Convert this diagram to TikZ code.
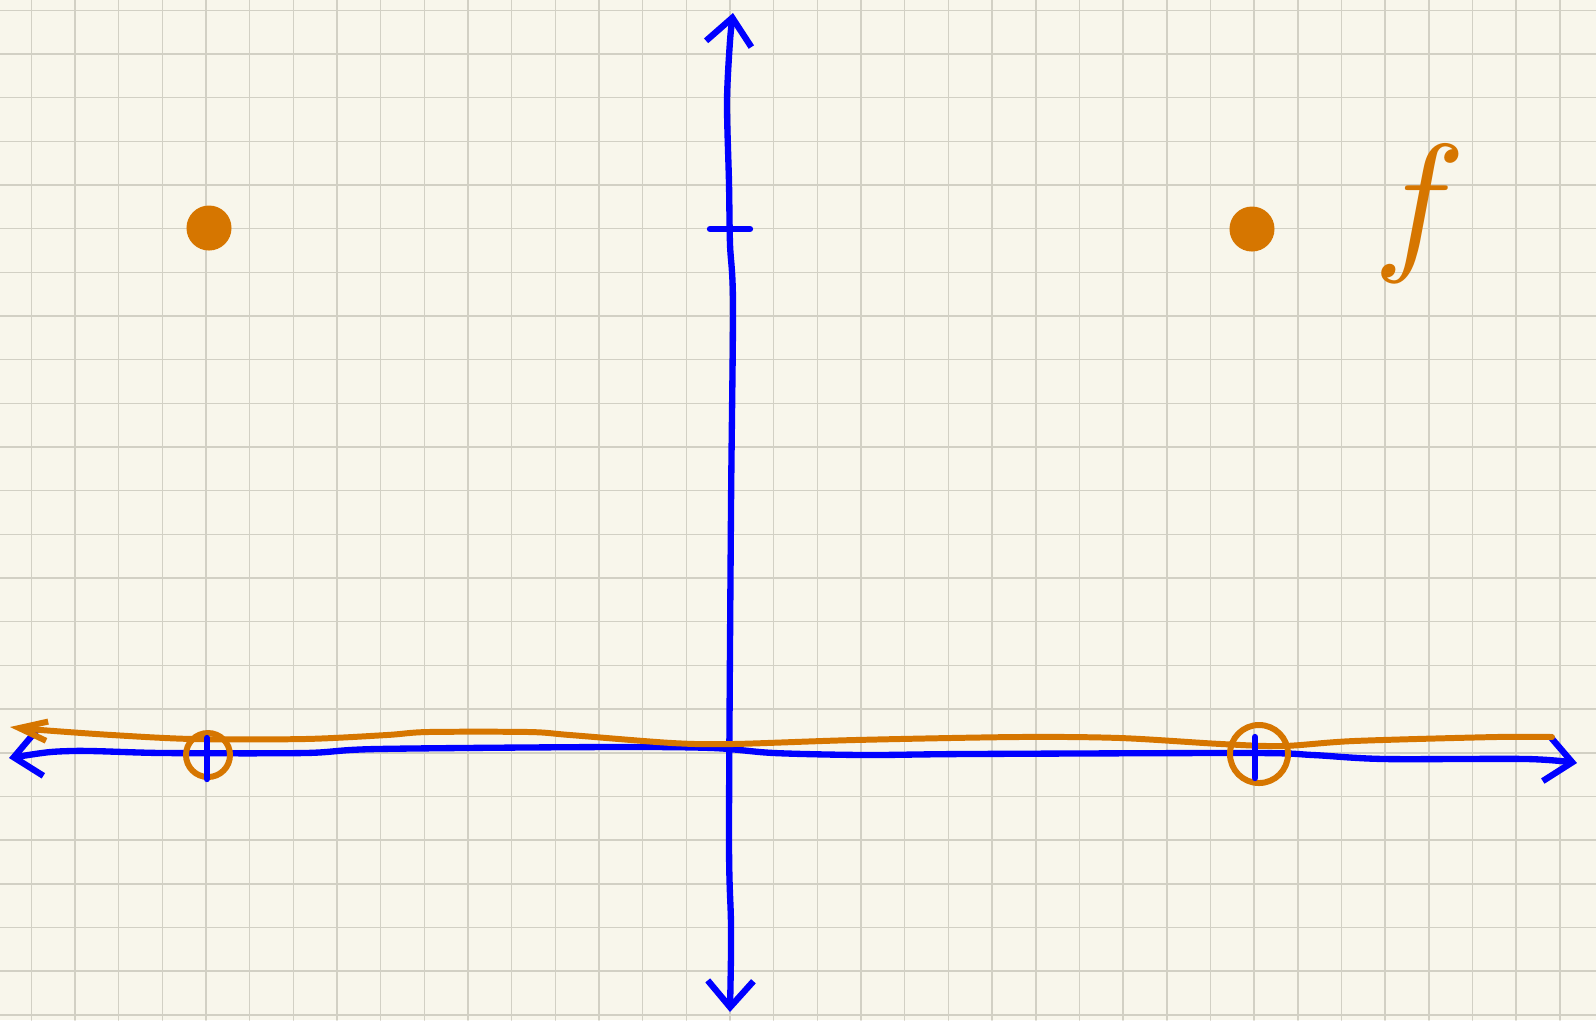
\documentclass[tikz,border=0pt]{standalone}
\usepackage{tikz}
\usetikzlibrary{arrows.meta}
\definecolor{paper}{HTML}{F8F6EB}
\definecolor{gridc}{HTML}{D2D0C4}
\definecolor{pen}{HTML}{0000FF}
\definecolor{marker}{HTML}{D67600}

\begin{document}
\begin{tikzpicture}[x=0.01cm, y=-0.01cm, line cap=round, line join=round,
  axis/.style={pen, line width=1.8pt},
  graph/.style={marker, line width=1.7pt},
  dot/.style={circle, fill=marker, inner sep=0pt, minimum size=0.45cm},
  hole/.style={circle, draw=marker, line width=1.7pt, inner sep=0pt},
  >={Straight Barb[length=7.5pt, width=13pt]}]
  \fill[paper] (0,0) rectangle (1596,1020);
  \useasboundingbox (0,0) rectangle (1596,1020);
  % squared paper
  \foreach \i in {0,...,35}
    \draw[gridc, line width=0.45pt] (31.3+43.67*\i,0) -- (31.3+43.67*\i,1020);
  \foreach \j in {0,...,23}
    \draw[gridc, line width=0.45pt] (0,10.3+43.67*\j) -- (1596,10.3+43.67*\j);
  % axis ends
  \coordinate (xl) at (9,758);
  \coordinate (xr) at (1577,763);
  \coordinate (yb) at (730,1012);
  \coordinate (yt) at (733,13);
  \coordinate (fl) at (10,727);
  \coordinate (fr) at (1552,737);
  % blue axes
  \draw[axis, <->] plot[smooth, tension=0.5] coordinates {(xl) (71,751)
    (163,753) (305,753) (377,749) (611,747) (713,748) (774,753) (865,755)
    (967,754) (1252,753) (1313,755) (1384,759) (1527,759) (xr)};
  \draw[axis, <->] plot[smooth, tension=0.5] coordinates {(yb) (731,926)
    (729,835) (731,509) (733,305) (730,244) (729,183) (727,102) (730,41) (yt)};
  % orange graph
  \draw[graph, <-, >={Straight Barb[length=8pt, width=5.5pt]}]
    plot[smooth, tension=0.5] coordinates {(fl) (41,730) (112,735)
    (193,739) (305,739) (387,735) (428,732) (529,732) (570,735) (672,743)
    (733,744) (855,740) (1018,737) (1120,738) (1221,744) (1283,746)
    (1354,741) (1496,737) (fr)};
  \node[dot] (pl) at (209,228) {};
  \node[dot] (pr) at (1252,229) {};
  \node[hole, minimum size=0.44cm] (hl) at (208,755) {};
  \node[hole, minimum size=0.58cm] (hr) at (1259,754) {};
  \node[marker, scale=4.4] (lab) at (1420,214) {$f$};
  % ticks
  \draw[axis] (710,229) -- (750,229);
  \draw[axis] (207,738) -- (207,779);
  \draw[axis] (1255,737) -- (1255,778);
\end{tikzpicture}
\end{document}
